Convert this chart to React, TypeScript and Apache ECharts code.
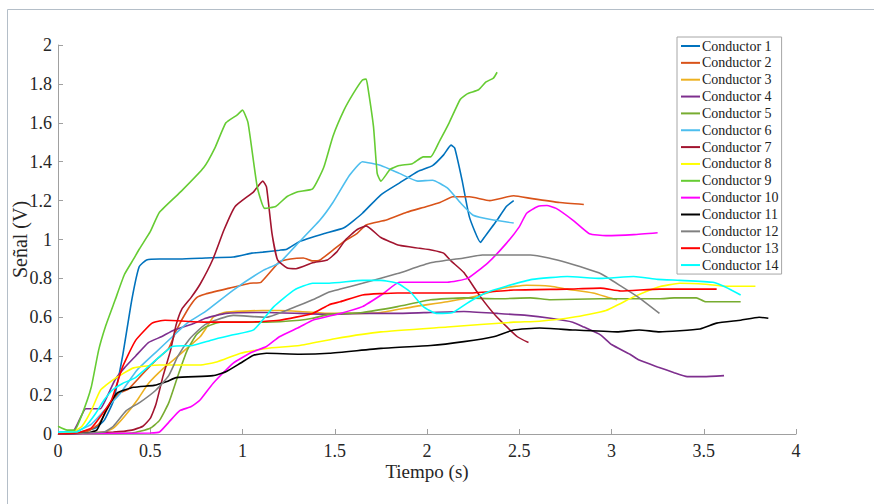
import React, { useEffect, useRef } from "react";
import * as echarts from "echarts";

// Signal (V) vs time (s) for each conductor, [t, value] pairs
const c1 = [[0,0],[0.1,0.005],[0.2,0.03],[0.25,0.07],[0.3,0.17],[0.35,0.4],[0.4,0.69],[0.44,0.86],[0.48,0.895],[0.55,0.9],[0.66,0.9],[0.8,0.905],[0.95,0.91],[1.05,0.93],[1.11,0.935],[1.2,0.945],[1.24,0.95],[1.31,0.99],[1.44,1.03],[1.55,1.06],[1.65,1.135],[1.75,1.23],[1.85,1.29],[1.95,1.35],[2.03,1.38],[2.09,1.435],[2.13,1.485],[2.15,1.47],[2.19,1.305],[2.23,1.115],[2.29,0.985],[2.31,1.01],[2.38,1.1],[2.43,1.17],[2.47,1.2]];
const c2 = [[0,0],[0.15,0.01],[0.22,0.05],[0.28,0.15],[0.33,0.21],[0.38,0.23],[0.45,0.3],[0.53,0.38],[0.6,0.44],[0.64,0.53],[0.7,0.635],[0.75,0.7],[0.8,0.72],[0.93,0.75],[1.04,0.775],[1.1,0.78],[1.2,0.885],[1.26,0.9],[1.33,0.905],[1.38,0.89],[1.42,0.895],[1.49,0.945],[1.55,0.99],[1.62,1.03],[1.67,1.075],[1.78,1.1],[1.89,1.14],[1.98,1.165],[2.07,1.19],[2.14,1.22],[2.23,1.22],[2.34,1.2],[2.47,1.225],[2.57,1.21],[2.72,1.19],[2.85,1.18]];
const c3 = [[0,0],[0.25,0.01],[0.3,0.03],[0.36,0.09],[0.43,0.175],[0.49,0.26],[0.58,0.345],[0.65,0.4],[0.71,0.45],[0.77,0.5],[0.8,0.54],[0.84,0.6],[0.9,0.625],[1.11,0.635],[1.2,0.635],[1.31,0.63],[1.47,0.62],[1.6,0.62],[1.75,0.625],[1.93,0.655],[2.11,0.68],[2.29,0.715],[2.41,0.75],[2.54,0.765],[2.67,0.76],[2.76,0.745],[2.9,0.725],[2.99,0.7],[3.03,0.69]];
const c4 = [[0,0],[0.08,0.01],[0.12,0.08],[0.15,0.13],[0.2,0.13],[0.23,0.13],[0.27,0.2],[0.31,0.28],[0.36,0.34],[0.42,0.4],[0.49,0.47],[0.56,0.5],[0.63,0.535],[0.74,0.57],[0.8,0.595],[0.91,0.62],[1.13,0.625],[1.31,0.62],[1.47,0.615],[1.65,0.62],[1.84,0.62],[2.02,0.625],[2.2,0.63],[2.38,0.62],[2.54,0.61],[2.67,0.595],[2.79,0.575],[2.85,0.55],[2.94,0.51],[3,0.46],[3.1,0.41],[3.15,0.38],[3.25,0.345],[3.34,0.315],[3.41,0.295],[3.5,0.295],[3.61,0.3]];
const c5 = [[0,0],[0.4,0.005],[0.5,0.03],[0.55,0.07],[0.6,0.16],[0.65,0.3],[0.7,0.43],[0.75,0.51],[0.8,0.55],[0.88,0.575],[1.13,0.575],[1.31,0.585],[1.38,0.595],[1.47,0.615],[1.65,0.625],[1.84,0.655],[2.02,0.69],[2.2,0.7],[2.38,0.695],[2.56,0.7],[2.67,0.69],[2.94,0.695],[3.26,0.695],[3.34,0.7],[3.46,0.7],[3.51,0.68],[3.7,0.68]];
const c6 = [[0,0.01],[0.1,0.015],[0.18,0.05],[0.25,0.12],[0.33,0.2],[0.43,0.33],[0.53,0.42],[0.62,0.5],[0.7,0.57],[0.8,0.63],[0.95,0.74],[1.11,0.84],[1.2,0.88],[1.29,0.97],[1.42,1.1],[1.49,1.19],[1.58,1.33],[1.65,1.4],[1.75,1.38],[1.85,1.34],[1.95,1.3],[2.03,1.305],[2.11,1.265],[2.18,1.19],[2.25,1.125],[2.36,1.1],[2.47,1.085]];
const c7 = [[0,0],[0.3,0.01],[0.4,0.02],[0.46,0.04],[0.5,0.08],[0.53,0.15],[0.57,0.3],[0.61,0.43],[0.64,0.56],[0.67,0.64],[0.72,0.7],[0.77,0.77],[0.84,0.9],[0.9,1.05],[0.96,1.17],[1.06,1.245],[1.11,1.3],[1.13,1.27],[1.16,1.03],[1.19,0.895],[1.24,0.855],[1.29,0.85],[1.38,0.88],[1.46,0.895],[1.51,0.935],[1.56,1],[1.62,1.05],[1.67,1.07],[1.75,1.01],[1.85,0.97],[1.96,0.955],[2.03,0.945],[2.09,0.93],[2.13,0.89],[2.2,0.83],[2.29,0.705],[2.38,0.6],[2.49,0.5],[2.55,0.47]];
const c8 = [[0,0],[0.08,0.01],[0.13,0.04],[0.18,0.12],[0.23,0.225],[0.3,0.28],[0.41,0.34],[0.55,0.355],[0.77,0.355],[0.86,0.37],[0.99,0.415],[1.13,0.44],[1.31,0.455],[1.5,0.49],[1.75,0.525],[2.11,0.55],[2.47,0.575],[2.61,0.58],[2.79,0.6],[2.97,0.635],[3.12,0.705],[3.25,0.755],[3.37,0.775],[3.51,0.77],[3.62,0.76],[3.78,0.76]];
const c9 = [[0,0.04],[0.05,0.02],[0.09,0.02],[0.13,0.1],[0.18,0.24],[0.22,0.43],[0.26,0.56],[0.31,0.69],[0.36,0.82],[0.41,0.9],[0.44,0.95],[0.5,1.04],[0.55,1.14],[0.67,1.25],[0.79,1.37],[0.85,1.47],[0.91,1.6],[0.97,1.64],[1,1.665],[1.03,1.6],[1.08,1.27],[1.12,1.16],[1.18,1.17],[1.24,1.22],[1.3,1.245],[1.38,1.26],[1.44,1.37],[1.49,1.53],[1.55,1.665],[1.6,1.75],[1.65,1.82],[1.67,1.825],[1.68,1.78],[1.71,1.58],[1.73,1.34],[1.75,1.3],[1.8,1.36],[1.85,1.38],[1.92,1.39],[1.98,1.425],[2.02,1.425],[2.07,1.51],[2.12,1.6],[2.18,1.72],[2.22,1.75],[2.28,1.77],[2.32,1.81],[2.36,1.83],[2.38,1.86]];
const c10 = [[0,0],[0.5,0.005],[0.55,0.01],[0.6,0.06],[0.66,0.12],[0.72,0.14],[0.77,0.175],[0.84,0.26],[0.95,0.365],[1.05,0.42],[1.13,0.45],[1.2,0.5],[1.31,0.55],[1.38,0.585],[1.53,0.62],[1.65,0.655],[1.76,0.72],[1.85,0.78],[1.96,0.78],[2.11,0.78],[2.22,0.8],[2.33,0.88],[2.43,0.98],[2.5,1.065],[2.54,1.135],[2.6,1.17],[2.65,1.175],[2.7,1.16],[2.79,1.1],[2.88,1.03],[2.97,1.02],[3.12,1.025],[3.25,1.035]];
const c11 = [[0,0],[0.15,0.005],[0.21,0.02],[0.26,0.12],[0.32,0.21],[0.41,0.24],[0.52,0.25],[0.59,0.27],[0.64,0.29],[0.84,0.3],[0.91,0.32],[0.99,0.365],[1.06,0.405],[1.13,0.415],[1.31,0.41],[1.47,0.415],[1.75,0.44],[2.02,0.455],[2.2,0.475],[2.36,0.5],[2.47,0.535],[2.61,0.545],[2.79,0.535],[3.03,0.525],[3.15,0.535],[3.26,0.525],[3.48,0.54],[3.57,0.57],[3.7,0.585],[3.8,0.6],[3.85,0.595]];
const c12 = [[0,0],[0.25,0.01],[0.3,0.04],[0.37,0.12],[0.44,0.16],[0.53,0.225],[0.6,0.3],[0.65,0.4],[0.71,0.485],[0.78,0.55],[0.81,0.57],[0.95,0.61],[1.13,0.6],[1.29,0.655],[1.38,0.69],[1.47,0.73],[1.53,0.745],[1.65,0.775],[1.84,0.825],[2.02,0.88],[2.2,0.905],[2.3,0.92],[2.56,0.92],[2.66,0.905],[2.76,0.88],[2.94,0.825],[3.06,0.755],[3.15,0.7],[3.26,0.62]];
const c13 = [[0,0],[0.1,0.005],[0.18,0.03],[0.23,0.09],[0.29,0.175],[0.35,0.345],[0.42,0.48],[0.51,0.57],[0.58,0.585],[0.8,0.575],[1.02,0.575],[1.2,0.585],[1.38,0.62],[1.47,0.665],[1.53,0.68],[1.65,0.715],[1.84,0.725],[2.02,0.725],[2.23,0.725],[2.47,0.74],[2.76,0.745],[2.94,0.75],[3.05,0.735],[3.26,0.745],[3.57,0.745]];
const c14 = [[0,0.01],[0.1,0.01],[0.15,0.04],[0.2,0.1],[0.25,0.175],[0.3,0.23],[0.35,0.26],[0.42,0.29],[0.53,0.38],[0.62,0.45],[0.73,0.455],[0.84,0.485],[0.95,0.51],[1.06,0.535],[1.17,0.655],[1.28,0.74],[1.38,0.775],[1.47,0.775],[1.65,0.79],[1.75,0.79],[1.84,0.775],[1.91,0.73],[1.98,0.655],[2.05,0.62],[2.14,0.625],[2.23,0.68],[2.33,0.73],[2.43,0.76],[2.57,0.795],[2.76,0.81],[2.94,0.8],[3.12,0.81],[3.25,0.795],[3.37,0.79],[3.55,0.78],[3.62,0.755],[3.7,0.715]];

const names = ["Conductor 1","Conductor 2","Conductor 3","Conductor 4","Conductor 5","Conductor 6","Conductor 7","Conductor 8","Conductor 9","Conductor 10","Conductor 11","Conductor 12","Conductor 13","Conductor 14"];
const seriesData = [c1, c2, c3, c4, c5, c6, c7, c8, c9, c10, c11, c12, c13, c14];
const colors = ["#0072BD","#D95319","#EDB120","#7E2F8E","#77AC30","#4DBEEE","#A2142F","#FFFF00","#66CC33","#FF00FF","#000000","#808080","#FF0000","#00FFFF"];

const FONT = "Liberation Serif";

export default function App() {
  const ref = useRef<HTMLDivElement>(null);

  useEffect(() => {
    if (!ref.current) return;
    const chart = echarts.init(ref.current, undefined, { renderer: "svg" });
    const fmt = (v: number) => String(Math.round(v * 10) / 10);
    chart.setOption({
      animation: false,
      backgroundColor: "#ffffff",
      color: colors,
      textStyle: { fontFamily: FONT },
      grid: { left: 58, right: 78, top: 45, bottom: 70, containLabel: false, outerBoundsMode: "none" },
      graphic: [
        { type: "line", shape: { x1: 7.5, y1: 9.5, x2: 874, y2: 9.5 }, style: { stroke: "#b4bec8", lineWidth: 1 } },
        { type: "line", shape: { x1: 7.5, y1: 9.5, x2: 7.5, y2: 504 }, style: { stroke: "#b4bec8", lineWidth: 1 } },
      ],
      legend: {
        orient: "vertical",
        left: 677,
        top: 37,
        data: names,
        icon: "rect",
        itemWidth: 19,
        itemHeight: 2,
        itemGap: 2.85,
        padding: [2, 3, 2, 4],
        backgroundColor: "#ffffff",
        borderColor: "#a6a6a6",
        borderWidth: 1,
        borderRadius: 0,
        textStyle: { fontFamily: FONT, fontSize: 14, color: "#222", lineHeight: 14, padding: [0, 0, 0, -3] },
      },
      xAxis: {
        type: "value",
        min: 0,
        max: 4,
        interval: 0.5,
        name: "Tiempo (s)",
        nameLocation: "middle",
        nameGap: 28,
        nameMoveOverlap: false,
        nameTextStyle: { fontFamily: FONT, fontSize: 19, color: "#262626" },
        axisLine: { show: true, lineStyle: { color: "#a0a0a0", width: 1 } },
        axisTick: { show: true, inside: true, length: 5, lineStyle: { color: "#a0a0a0" } },
        axisLabel: { formatter: fmt, fontFamily: FONT, fontSize: 18, color: "#262626", margin: 8 },
        splitLine: { show: false },
      },
      yAxis: {
        type: "value",
        min: 0,
        max: 2,
        interval: 0.2,
        name: "Señal (V)",
        nameLocation: "middle",
        nameGap: 28,
        nameMoveOverlap: false,
        nameTextStyle: { fontFamily: FONT, fontSize: 20, color: "#262626" },
        axisLine: { show: true, lineStyle: { color: "#a0a0a0", width: 1 } },
        axisTick: { show: true, inside: true, length: 5, lineStyle: { color: "#a0a0a0" } },
        axisLabel: { formatter: fmt, fontFamily: FONT, fontSize: 18, color: "#262626", margin: 6 },
        splitLine: { show: false },
      },
      series: seriesData.map((d, i) => ({
        type: "line",
        name: names[i],
        data: d,
        showSymbol: false,
        smooth: 0.15,
        lineStyle: { width: 1.6, color: colors[i] },
        itemStyle: { color: colors[i] },
      })),
    });
    return () => chart.dispose();
  }, []);

  return <div ref={ref} style={{ position: "fixed", left: 0, top: 0, width: 874, height: 504 }} />;
}
